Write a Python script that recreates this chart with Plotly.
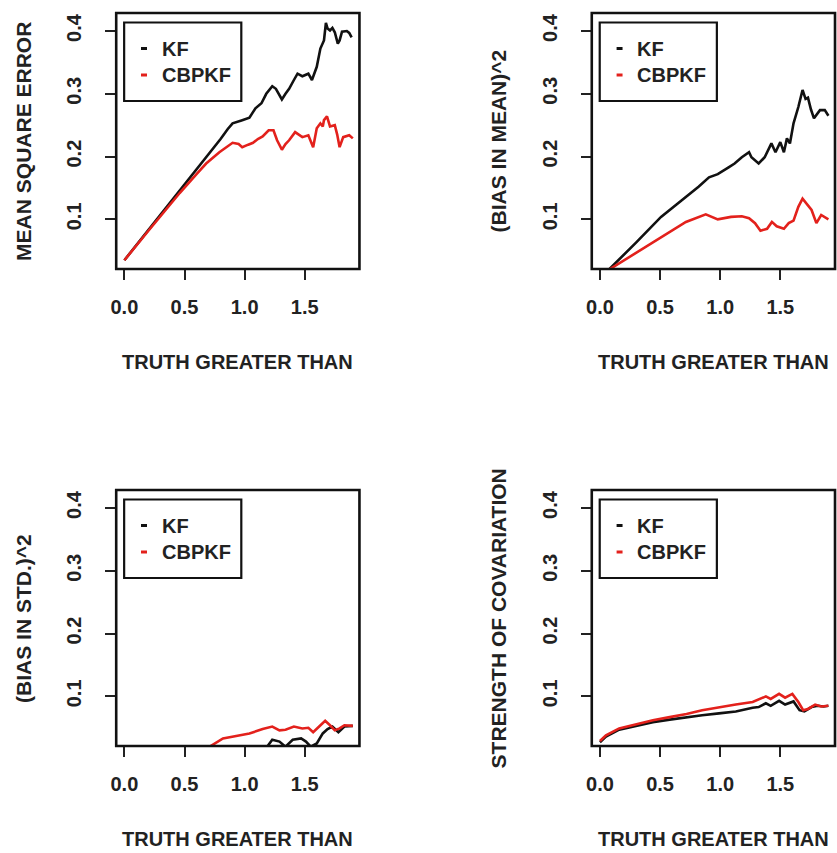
import plotly.graph_objects as go

# ---- axis ticks and labels ----
X_TICKS = [0.0, 0.5, 1.0, 1.5]
X_TICK_TEXT = ["0.0", "0.5", "1.0", "1.5"]
Y_TICKS = [0.1, 0.2, 0.3, 0.4]
Y_TICK_TEXT = ["0.1", "0.2", "0.3", "0.4"]
X_TITLE = "TRUTH GREATER THAN"
Y_TITLES = ["MEAN SQUARE ERROR", "(BIAS IN MEAN)^2", "(BIAS IN STD.)^2", "STRENGTH OF COVARIATION"]
SERIES_NAMES = ["KF", "CBPKF"]

# ---- panel 1: mean square error ----
mse_kf_x = [0.0, 0.1, 0.2, 0.3, 0.46, 0.6, 0.71, 0.8, 0.86, 0.9, 0.98, 1.04, 1.09, 1.14, 1.18, 1.23,
            1.26, 1.31, 1.34, 1.37, 1.41, 1.44, 1.48, 1.53, 1.56, 1.60, 1.63, 1.66, 1.676, 1.69, 1.71,
            1.73, 1.75, 1.775, 1.79, 1.81, 1.85, 1.87, 1.89]
mse_kf_y = [0.035, 0.059, 0.083, 0.107, 0.146, 0.180, 0.207, 0.228, 0.244, 0.253, 0.258, 0.262, 0.277,
            0.285, 0.300, 0.312, 0.308, 0.291, 0.300, 0.308, 0.322, 0.332, 0.328, 0.332, 0.322, 0.343,
            0.372, 0.385, 0.413, 0.404, 0.401, 0.405, 0.398, 0.380, 0.385, 0.399, 0.400, 0.397, 0.390]
mse_cb_x = [0.0, 0.1, 0.2, 0.3, 0.46, 0.6, 0.68, 0.79, 0.85, 0.9, 0.95, 0.98, 1.03, 1.07, 1.11, 1.15,
            1.20, 1.24, 1.27, 1.31, 1.34, 1.37, 1.42, 1.45, 1.48, 1.53, 1.57, 1.60, 1.63, 1.65, 1.66,
            1.685, 1.71, 1.75, 1.77, 1.79, 1.82, 1.87, 1.9]
mse_cb_y = [0.035, 0.059, 0.082, 0.105, 0.142, 0.172, 0.189, 0.207, 0.216, 0.222, 0.220, 0.215, 0.219,
            0.222, 0.228, 0.232, 0.242, 0.242, 0.226, 0.211, 0.220, 0.226, 0.239, 0.235, 0.231, 0.234,
            0.215, 0.245, 0.253, 0.248, 0.258, 0.264, 0.248, 0.250, 0.235, 0.215, 0.231, 0.234, 0.229]

# ---- panel 2: squared bias in mean ----
bm_kf_x = [0.0, 0.08, 0.3, 0.508, 0.715, 0.82, 0.907, 0.98, 1.07, 1.12, 1.18, 1.24, 1.26, 1.32, 1.37,
           1.426, 1.46, 1.50, 1.53, 1.555, 1.58, 1.61, 1.65, 1.685, 1.71, 1.73, 1.755, 1.78, 1.83, 1.87, 1.90]
bm_kf_y = [0.006, 0.021, 0.063, 0.104, 0.136, 0.152, 0.167, 0.172, 0.183, 0.189, 0.199, 0.207, 0.199,
           0.189, 0.199, 0.221, 0.207, 0.223, 0.207, 0.229, 0.221, 0.253, 0.279, 0.306, 0.292, 0.294,
           0.275, 0.261, 0.274, 0.274, 0.265]
bm_cb_x = [0.0, 0.10, 0.3, 0.508, 0.715, 0.88, 0.98, 1.09, 1.18, 1.24, 1.29, 1.335, 1.39, 1.43, 1.47,
           1.53, 1.57, 1.61, 1.65, 1.685, 1.72, 1.76, 1.80, 1.84, 1.90]
bm_cb_y = [0.011, 0.023, 0.047, 0.072, 0.096, 0.108, 0.100, 0.104, 0.105, 0.102, 0.094, 0.082, 0.085,
           0.096, 0.089, 0.085, 0.094, 0.098, 0.120, 0.133, 0.125, 0.115, 0.094, 0.107, 0.100]

# ---- panel 3: squared bias in std ----
bs_kf_x = [0.0, 0.5, 1.0, 1.18, 1.23, 1.29, 1.34, 1.40, 1.47, 1.51, 1.55, 1.60, 1.65, 1.69, 1.73, 1.78,
           1.83, 1.90]
bs_kf_y = [0.005, 0.008, 0.012, 0.018, 0.031, 0.028, 0.020, 0.031, 0.033, 0.028, 0.020, 0.025, 0.041,
           0.048, 0.052, 0.043, 0.052, 0.053]
bs_cb_x = [0.0, 0.4, 0.71, 0.82, 0.93, 1.04, 1.15, 1.23, 1.29, 1.34, 1.41, 1.48, 1.53, 1.57, 1.62, 1.67,
           1.71, 1.75, 1.79, 1.83, 1.90]
bs_cb_y = [0.004, 0.008, 0.020, 0.033, 0.037, 0.041, 0.048, 0.052, 0.046, 0.047, 0.052, 0.049, 0.050,
           0.043, 0.052, 0.061, 0.054, 0.046, 0.049, 0.054, 0.053]

# ---- panel 4: strength of covariation ----
cv_kf_x = [0.0, 0.05, 0.16, 0.30, 0.44, 0.58, 0.72, 0.85, 0.99, 1.13, 1.27, 1.32, 1.38, 1.42, 1.49,
           1.54, 1.61, 1.66, 1.70, 1.76, 1.81, 1.86, 1.90]
cv_kf_y = [0.027, 0.036, 0.047, 0.053, 0.059, 0.063, 0.067, 0.070, 0.073, 0.076, 0.082, 0.083, 0.089,
           0.085, 0.093, 0.087, 0.092, 0.078, 0.076, 0.083, 0.085, 0.084, 0.085]
cv_cb_x = [0.0, 0.05, 0.16, 0.30, 0.44, 0.58, 0.72, 0.85, 0.99, 1.13, 1.27, 1.32, 1.38, 1.42, 1.49,
           1.54, 1.60, 1.65, 1.69, 1.73, 1.79, 1.84, 1.90]
cv_cb_y = [0.029, 0.038, 0.049, 0.056, 0.062, 0.067, 0.072, 0.078, 0.083, 0.087, 0.091, 0.095, 0.100,
           0.096, 0.104, 0.098, 0.104, 0.091, 0.078, 0.080, 0.087, 0.084, 0.085]

PANELS = [
    ((mse_kf_x, mse_kf_y), (mse_cb_x, mse_cb_y)),
    ((bm_kf_x, bm_kf_y), (bm_cb_x, bm_cb_y)),
    ((bs_kf_x, bs_kf_y), (bs_cb_x, bs_cb_y)),
    ((cv_kf_x, cv_kf_y), (cv_cb_x, cv_cb_y)),
]
COLORS = ["#111111", "#e3211c"]

# ---- page geometry (pixels) ----
W, H = 837, 853
COL_LEFT = [111, 590]        # left edge of plot box per column
ROW_TOP = [13, 490]          # top edge of plot box per row
BOX_W, BOX_H = 245, 256
X_RANGE = [-0.068, 1.955]
Y_RANGE = [0.021, 0.4287]
FONT = "Liberation Sans, Arial, Helvetica, sans-serif"
FS = 20
TEXT_COLOR = "#222222"

fig = go.Figure()
layout = dict(
    width=W, height=H, margin=dict(l=0, r=0, t=0, b=0),
    paper_bgcolor="white", plot_bgcolor="white", showlegend=False,
    font=dict(family=FONT, size=FS, color=TEXT_COLOR, weight="bold"),
)
shapes, annotations = [], []
bold = dict(size=FS, weight="bold", color=TEXT_COLOR)
bold_ytitle = dict(size=FS + 1, weight="bold", color=TEXT_COLOR)

for i, (kf, cb) in enumerate(PANELS):
    n = i + 1
    row, col = divmod(i, 2)
    x0 = COL_LEFT[col]
    y0 = ROW_TOP[row]
    xs = "" if n == 1 else str(n)
    xref, yref = "x" + xs, "y" + xs

    for (xv, yv), name, colr in zip((kf, cb), SERIES_NAMES, COLORS):
        fig.add_trace(go.Scatter(x=xv, y=yv, mode="lines", name=name,
                                 line=dict(color=colr, width=2.6),
                                 xaxis=xref, yaxis=yref))

    layout["xaxis" + xs] = dict(
        domain=[x0 / W, (x0 + BOX_W) / W], range=X_RANGE, anchor=yref,
        tickvals=X_TICKS, ticktext=X_TICK_TEXT, ticks="outside", ticklen=10,
        tickwidth=1.5, tickcolor="#222", showgrid=False, zeroline=False,
        showline=False, ticklabelstandoff=10, tickfont=bold,
    )
    layout["yaxis" + xs] = dict(
        domain=[1 - (y0 + BOX_H) / H, 1 - y0 / H], range=Y_RANGE, anchor=xref,
        tickvals=Y_TICKS, ticktext=Y_TICK_TEXT, ticks="outside", ticklen=10,
        tickwidth=1.5, tickcolor="#222", showgrid=False, zeroline=False,
        showline=False, tickangle=-90, ticklabelstandoff=16, tickfont=bold,
    )

    dx, dy = xref + " domain", yref + " domain"
    # plot frame
    shapes.append(dict(type="rect", xref=dx, yref=dy, x0=0, x1=1, y0=0, y1=1,
                       line=dict(color="#111", width=2.6), layer="above"))
    # legend frame
    shapes.append(dict(type="rect", xref=dx, yref=dy,
                       x0=8 / BOX_W, x1=126 / BOX_W, y0=1 - 88 / BOX_H, y1=1 - 9.5 / BOX_H,
                       line=dict(color="#111", width=2.2), fillcolor="white", layer="above"))
    for k, (name, colr) in enumerate(zip(SERIES_NAMES, COLORS)):
        yy = 1 - (35.5 + 26.5 * k) / BOX_H
        shapes.append(dict(type="line", xref=dx, yref=dy, x0=25 / BOX_W, x1=31 / BOX_W,
                           y0=yy, y1=yy, line=dict(color=colr, width=3), layer="above"))
        annotations.append(dict(text=name, xref=dx, yref=dy, x=44 / BOX_W, y=yy,
                                xanchor="left", yanchor="middle", showarrow=False,
                                font=bold))

    # axis titles
    annotations.append(dict(text=X_TITLE, xref="paper", yref="paper",
                            x=(x0 + BOX_W / 2) / W, y=1 - (y0 + BOX_H + 92.5) / H,
                            xanchor="center", yanchor="middle", showarrow=False,
                            font=bold))
    annotations.append(dict(text=Y_TITLES[i], xref="paper", yref="paper",
                            x=(x0 - 94) / W, y=1 - (y0 + BOX_H / 2) / H, textangle=-90,
                            xanchor="center", yanchor="middle", showarrow=False,
                            font=bold_ytitle))

layout["shapes"] = shapes
layout["annotations"] = annotations
fig.update_layout(**layout)
fig.write_html("out.html")
